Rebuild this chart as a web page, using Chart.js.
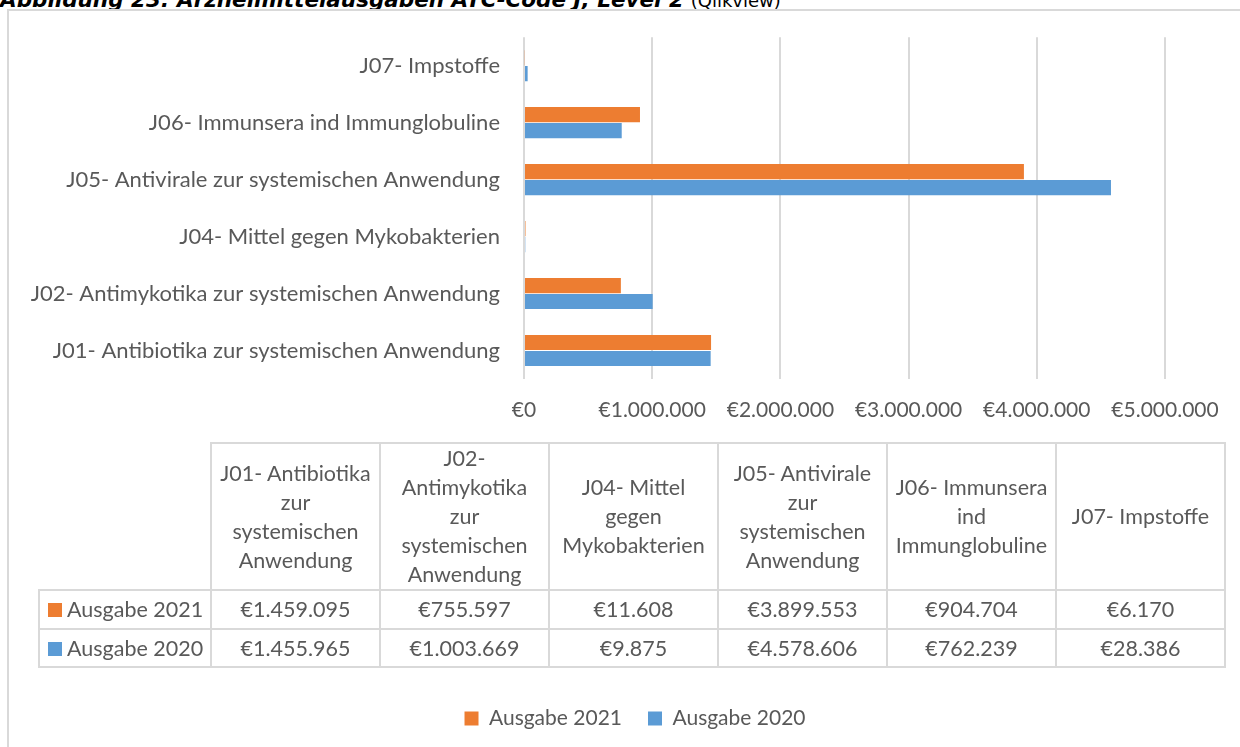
<!DOCTYPE html>
<html lang="de">
<head>
<meta charset="utf-8">
<title>Arzneimittelausgaben ATC-Code J, Level 2</title>
<script src="https://cdn.jsdelivr.net/npm/chart.js@4.4.1/dist/chart.umd.min.js"></script>
<style>
    body { margin: 0; width: 1240px; height: 747px; overflow: hidden; position: relative; background: #fff; }
    #title {
        position: absolute; left: 0; top: -11px; white-space: nowrap;
        font-family: "DejaVu Sans", sans-serif; font-size: 21.5px; line-height: 21px; color: #000;
    }
    #title b { font-style: italic; font-weight: bold; }
    #title span { font-size: 18px; }
    #frame { position: absolute; left: 7px; top: 9px; width: 1300px; height: 800px; border: 2px solid #d9d9d9; }
    #wrap { position: absolute; left: 0; top: 0; width: 1240px; height: 747px; }
    #tbl {
        position: absolute; left: 38px; top: 442px; border-collapse: collapse;
        font-family: Lato, sans-serif; font-size: 21.5px; color: #595959; table-layout: fixed;
    }
    #tbl td { border: 2px solid #d9d9d9; text-align: center; vertical-align: middle; line-height: 29px; padding: 0; }
    #tbl td.corner { border-top: none; border-left: none; }
    #tbl td.rowlab { text-align: left; padding-left: 8px; white-space: nowrap; }
    #tbl .key { display: inline-block; width: 14px; height: 14px; margin-right: 5px; }
</style>
</head>
<body>
<div id="title"><b>Abbildung 23: Arzneimittelausgaben ATC-Code J, Level 2</b> <span>(Qlikview)</span></div>
<div id="frame"></div>
<div id="wrap"><canvas id="chart" width="1240" height="747"></canvas></div>
<table id="tbl"></table>

<script>
// Data
const categories = [
    'J01- Antibiotika zur systemischen Anwendung',
    'J02- Antimykotika zur systemischen Anwendung',
    'J04- Mittel gegen Mykobakterien',
    'J05- Antivirale zur systemischen Anwendung',
    'J06- Immunsera ind Immunglobuline',
    'J07- Impstoffe'
];
// how the category names wrap in the table header
const headerLines = [
    ['J01- Antibiotika', 'zur', 'systemischen', 'Anwendung'],
    ['J02-', 'Antimykotika', 'zur', 'systemischen', 'Anwendung'],
    ['J04- Mittel', 'gegen', 'Mykobakterien'],
    ['J05- Antivirale', 'zur', 'systemischen', 'Anwendung'],
    ['J06- Immunsera', 'ind', 'Immunglobuline'],
    ['J07- Impstoffe']
];
const seriesNames = ['Ausgabe 2021', 'Ausgabe 2020'];
const ausgabe2021 = [1459095, 755597, 11608, 3899553, 904704, 6170];
const ausgabe2020 = [1455965, 1003669, 9875, 4578606, 762239, 28386];
const xTicks = [0, 1000000, 2000000, 3000000, 4000000, 5000000];

const ORANGE = '#ED7D31';
const BLUE = '#5B9BD5';
const TEXT = '#595959';
const GRID = '#d9d9d9';
const FONT = 'Lato, sans-serif';

// €1.234.567
function euro(v) {
    return '€' + String(Math.round(v)).replace(/\B(?=(\d{3})+(?!\d))/g, '.');
}

// Data table under the chart
function buildTable() {
    const tbl = document.getElementById('tbl');
    let html = '<colgroup><col style="width:172px">';
    categories.forEach(() => html += '<col style="width:169px">');
    html += '</colgroup>';

    html += '<tr style="height:146px"><td class="corner"></td>';
    headerLines.forEach(lines => html += '<td>' + lines.join('<br>') + '</td>');
    html += '</tr>';

    const rows = [[seriesNames[0], ORANGE, ausgabe2021, 39], [seriesNames[1], BLUE, ausgabe2020, 38]];
    rows.forEach(([name, color, values, h]) => {
        html += `<tr style="height:${h}px"><td class="rowlab"><span class="key" style="background:${color}"></span>${name}</td>`;
        values.forEach(v => html += '<td>' + euro(v) + '</td>');
        html += '</tr>';
    });
    tbl.innerHTML = html;
}

buildTable();

// the legend sits a bit right of the canvas centre in the original
const legendShift = {
    id: 'legendShift',
    afterLayout(chart) {
        if (chart.legend) chart.legend.left += 90;
    }
};

Chart.defaults.font.family = FONT;
Chart.defaults.font.size = 21;
Chart.defaults.color = TEXT;

new Chart(document.getElementById('chart'), {
    type: 'bar',
    data: {
        labels: categories,
        datasets: [
            { label: seriesNames[0], data: ausgabe2021, backgroundColor: ORANGE },
            { label: seriesNames[1], data: ausgabe2020, backgroundColor: BLUE }
        ]
    },
    options: {
        indexAxis: 'y',
        responsive: false,
        devicePixelRatio: 1,
        animation: false,
        categoryPercentage: 0.56,
        barPercentage: 0.95,
        layout: { padding: { left: 15, right: 75, top: 37, bottom: 8 } },
        plugins: {
            legend: {
                position: 'bottom',
                labels: { boxWidth: 14, boxHeight: 14, padding: 26, color: TEXT }
            },
            tooltip: { enabled: false }
        },
        scales: {
            x: {
                min: 0,
                max: 5000000,
                afterBuildTicks: s => { s.ticks = xTicks.map(v => ({ value: v })); },
                ticks: { callback: v => euro(v), padding: 19, maxRotation: 0 },
                grid: { color: GRID, lineWidth: 2, drawTicks: false },
                border: { display: false },
                afterFit: s => { s.height = 303; }
            },
            y: {
                reverse: true,
                ticks: { padding: 24, font: { size: 22 } },
                grid: { display: false, drawTicks: false },
                border: { display: false },
                afterFit: s => { s.width = 509; }
            }
        }
    },
    plugins: [legendShift]
});
</script>
</body>
</html>
